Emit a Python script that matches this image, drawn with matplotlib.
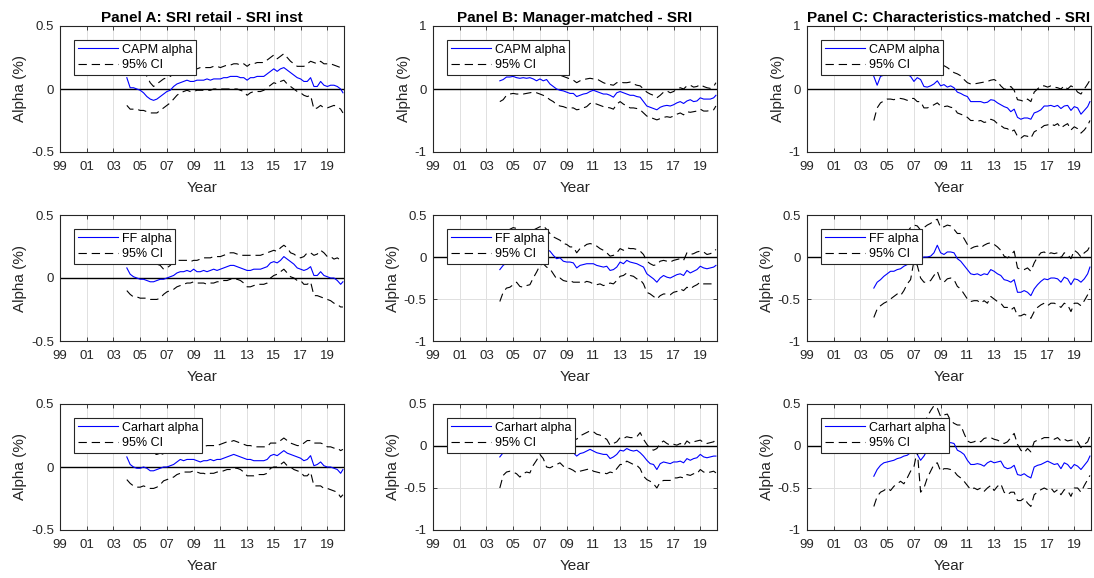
import numpy as np
import matplotlib
matplotlib.use("Agg")
import matplotlib.pyplot as plt

plt.rcParams['font.family'] = ['Liberation Sans', 'DejaVu Sans']
plt.rcParams['lines.scale_dashes'] = False

# quarterly dates 2004.00 ... 2020.00 plus final observation
dates = list(np.arange(2004.0, 2020.001, 0.25)) + [2020.17]

# ---------------- Panel A: SRI retail - SRI inst ----------------
a_capm = [0.09, 0.01, 0.01, 0.00, -0.01, -0.03, -0.06, -0.08, -0.09, -0.08, -0.06, -0.04,
          -0.02, -0.01, 0.02, 0.04, 0.05, 0.06, 0.07, 0.06, 0.06, 0.07, 0.07, 0.07,
          0.08, 0.07, 0.08, 0.08, 0.08, 0.09, 0.09, 0.10, 0.10, 0.10, 0.09, 0.09,
          0.07, 0.09, 0.09, 0.10, 0.10, 0.10, 0.12, 0.14, 0.16, 0.14, 0.16, 0.17,
          0.15, 0.13, 0.11, 0.09, 0.08, 0.06, 0.06, 0.09, 0.02, 0.02, 0.06, 0.03,
          0.02, 0.03, 0.03, 0.02, 0.00, -0.03]
a_capm_hi = [0.30, 0.20, 0.19, 0.17, 0.16, 0.14, 0.10, 0.05, 0.02, 0.04, 0.06, 0.08,
             0.09, 0.10, 0.12, 0.14, 0.15, 0.15, 0.16, 0.14, 0.14, 0.16, 0.17, 0.17,
             0.17, 0.17, 0.18, 0.18, 0.17, 0.18, 0.19, 0.19, 0.20, 0.20, 0.19, 0.20,
             0.18, 0.20, 0.20, 0.21, 0.21, 0.21, 0.23, 0.25, 0.27, 0.24, 0.26, 0.28,
             0.25, 0.22, 0.20, 0.18, 0.18, 0.18, 0.20, 0.22, 0.21, 0.20, 0.22, 0.20,
             0.20, 0.20, 0.19, 0.18, 0.17, 0.15]
a_capm_lo = [-0.13, -0.16, -0.16, -0.16, -0.17, -0.17, -0.18, -0.19, -0.19, -0.19, -0.17, -0.15,
             -0.13, -0.11, -0.08, -0.05, -0.03, -0.02, -0.01, -0.02, -0.02, -0.01, -0.01, -0.01,
             -0.01, -0.01, 0.00, 0.00, 0.00, 0.00, 0.00, 0.00, 0.00, 0.00, -0.01, -0.02,
             -0.05, -0.03, -0.02, -0.02, -0.02, -0.01, 0.01, 0.03, 0.05, 0.04, 0.06, 0.07,
             0.04, 0.02, 0.00, -0.02, -0.03, -0.05, -0.06, -0.05, -0.16, -0.15, -0.13, -0.15,
             -0.15, -0.14, -0.13, -0.14, -0.16, -0.19]

a_ff = [0.08, 0.03, 0.01, 0.00, -0.01, -0.01, -0.02, -0.03, -0.03, -0.02, -0.01, -0.01,
        0.00, 0.01, 0.02, 0.04, 0.05, 0.05, 0.06, 0.05, 0.07, 0.05, 0.05, 0.06,
        0.05, 0.06, 0.07, 0.06, 0.07, 0.08, 0.09, 0.10, 0.10, 0.09, 0.08, 0.07,
        0.06, 0.06, 0.07, 0.07, 0.07, 0.08, 0.09, 0.12, 0.13, 0.12, 0.14, 0.17,
        0.15, 0.13, 0.11, 0.08, 0.07, 0.06, 0.07, 0.09, 0.02, 0.02, 0.05, 0.02,
        0.01, 0.00, 0.00, -0.02, -0.05, -0.03]
a_ff_hi = [0.28, 0.22, 0.20, 0.17, 0.15, 0.14, 0.13, 0.12, 0.11, 0.11, 0.10, 0.07,
           0.08, 0.10, 0.13, 0.14, 0.14, 0.14, 0.14, 0.13, 0.14, 0.14, 0.15, 0.16,
           0.16, 0.16, 0.17, 0.17, 0.17, 0.18, 0.19, 0.20, 0.20, 0.19, 0.18, 0.18,
           0.18, 0.18, 0.18, 0.18, 0.18, 0.19, 0.20, 0.21, 0.22, 0.21, 0.24, 0.26,
           0.24, 0.20, 0.19, 0.17, 0.16, 0.17, 0.20, 0.20, 0.18, 0.19, 0.22, 0.20,
           0.17, 0.17, 0.15, 0.16, 0.14, 0.14]
a_ff_lo = [-0.10, -0.13, -0.15, -0.15, -0.16, -0.16, -0.16, -0.17, -0.17, -0.17, -0.16, -0.13,
           -0.11, -0.10, -0.09, -0.07, -0.06, -0.05, -0.04, -0.04, -0.03, -0.04, -0.04, -0.04,
           -0.05, -0.04, -0.04, -0.03, -0.03, -0.02, -0.02, -0.01, -0.01, -0.01, -0.02, -0.04,
           -0.07, -0.07, -0.06, -0.05, -0.05, -0.05, -0.04, 0.00, 0.02, 0.03, 0.05, 0.07,
           0.04, 0.01, 0.00, -0.02, -0.02, -0.05, -0.05, -0.03, -0.14, -0.14, -0.15, -0.16,
           -0.17, -0.18, -0.20, -0.21, -0.23, -0.23]

a_car = [0.08, 0.02, 0.00, -0.01, -0.01, 0.00, -0.01, -0.03, -0.03, -0.02, -0.01, 0.00,
         0.00, 0.01, 0.02, 0.04, 0.06, 0.05, 0.06, 0.06, 0.06, 0.05, 0.04, 0.05,
         0.05, 0.06, 0.05, 0.06, 0.06, 0.07, 0.08, 0.09, 0.10, 0.09, 0.08, 0.07,
         0.06, 0.06, 0.05, 0.05, 0.05, 0.05, 0.06, 0.09, 0.10, 0.09, 0.11, 0.13,
         0.11, 0.10, 0.09, 0.08, 0.07, 0.05, 0.06, 0.09, 0.01, 0.02, 0.04, 0.01,
         0.00, 0.00, -0.01, -0.02, -0.05, -0.02]
a_car_hi = [0.27, 0.20, 0.17, 0.15, 0.14, 0.15, 0.13, 0.11, 0.10, 0.10, 0.11, 0.10,
            0.10, 0.12, 0.13, 0.14, 0.15, 0.15, 0.15, 0.15, 0.15, 0.15, 0.16, 0.16,
            0.17, 0.17, 0.17, 0.17, 0.18, 0.19, 0.20, 0.20, 0.21, 0.20, 0.19, 0.18,
            0.17, 0.17, 0.16, 0.16, 0.16, 0.16, 0.16, 0.19, 0.19, 0.19, 0.21, 0.23,
            0.21, 0.19, 0.18, 0.17, 0.17, 0.19, 0.21, 0.21, 0.19, 0.19, 0.19, 0.18,
            0.16, 0.16, 0.15, 0.15, 0.13, 0.14]
a_car_lo = [-0.10, -0.13, -0.15, -0.16, -0.16, -0.15, -0.16, -0.17, -0.17, -0.16, -0.14, -0.11,
            -0.10, -0.09, -0.08, -0.06, -0.05, -0.04, -0.04, -0.04, -0.03, -0.04, -0.05, -0.05,
            -0.06, -0.05, -0.05, -0.04, -0.04, -0.03, -0.02, -0.02, -0.01, -0.01, -0.02, -0.04,
            -0.07, -0.07, -0.07, -0.06, -0.06, -0.06, -0.05, -0.01, 0.00, 0.00, 0.02, 0.04,
            0.01, 0.00, -0.02, -0.03, -0.04, -0.07, -0.07, -0.04, -0.15, -0.15, -0.15, -0.17,
            -0.17, -0.18, -0.19, -0.20, -0.24, -0.22]

# ---------------- Panel B: Manager-matched - SRI ----------------
b_capm = [0.13, 0.15, 0.19, 0.19, 0.20, 0.18, 0.17, 0.18, 0.17, 0.18, 0.16, 0.13,
          0.16, 0.13, 0.15, 0.08, 0.04, 0.00, -0.02, -0.03, -0.05, -0.07, -0.07, -0.12,
          -0.10, -0.08, -0.07, -0.04, -0.02, -0.04, -0.06, -0.08, -0.08, -0.10, -0.13, -0.06,
          -0.04, -0.06, -0.08, -0.10, -0.10, -0.12, -0.13, -0.20, -0.27, -0.29, -0.31, -0.33,
          -0.29, -0.27, -0.26, -0.27, -0.25, -0.22, -0.20, -0.23, -0.19, -0.17, -0.20, -0.19,
          -0.14, -0.16, -0.16, -0.16, -0.14, -0.10]
b_capm_hi = [0.45, 0.45, 0.45, 0.45, 0.45, 0.44, 0.42, 0.42, 0.42, 0.41, 0.40, 0.38,
             0.40, 0.38, 0.38, 0.34, 0.30, 0.25, 0.22, 0.20, 0.18, 0.16, 0.14, 0.10,
             0.13, 0.15, 0.16, 0.17, 0.16, 0.16, 0.13, 0.10, 0.08, 0.07, 0.06, 0.10,
             0.11, 0.10, 0.10, 0.11, 0.08, 0.06, 0.05, 0.00, -0.05, -0.08, -0.10, -0.14,
             -0.10, -0.05, -0.03, -0.06, -0.04, 0.00, 0.02, 0.00, 0.05, 0.06, 0.03, 0.04,
             0.07, 0.04, 0.02, 0.01, 0.04, 0.10]
b_capm_lo = [-0.20, -0.17, -0.10, -0.08, -0.07, -0.08, -0.08, -0.08, -0.07, -0.06, -0.05, -0.06,
             -0.08, -0.10, -0.13, -0.17, -0.20, -0.25, -0.27, -0.28, -0.30, -0.30, -0.30, -0.33,
             -0.32, -0.30, -0.28, -0.23, -0.22, -0.24, -0.26, -0.28, -0.29, -0.30, -0.32, -0.24,
             -0.20, -0.24, -0.27, -0.30, -0.30, -0.31, -0.33, -0.38, -0.43, -0.45, -0.47, -0.49,
             -0.47, -0.45, -0.44, -0.45, -0.43, -0.40, -0.38, -0.41, -0.36, -0.37, -0.36, -0.35,
             -0.32, -0.35, -0.35, -0.34, -0.33, -0.27]

b_ff = [-0.15, -0.10, -0.07, -0.05, -0.03, -0.02, -0.02, -0.03, -0.02, 0.00, 0.02, 0.05,
        0.08, 0.10, 0.09, 0.07, 0.02, -0.02, -0.01, -0.05, -0.06, -0.06, -0.07, -0.13,
        -0.10, -0.09, -0.08, -0.08, -0.08, -0.10, -0.11, -0.12, -0.11, -0.16, -0.15, -0.12,
        -0.06, -0.08, -0.04, -0.06, -0.07, -0.08, -0.10, -0.12, -0.20, -0.23, -0.26, -0.30,
        -0.25, -0.22, -0.24, -0.25, -0.23, -0.21, -0.20, -0.22, -0.16, -0.19, -0.17, -0.15,
        -0.11, -0.13, -0.14, -0.13, -0.12, -0.10]
b_ff_hi = [0.20, 0.26, 0.30, 0.33, 0.35, 0.34, 0.33, 0.31, 0.30, 0.31, 0.32, 0.34,
           0.36, 0.37, 0.33, 0.28, 0.24, 0.22, 0.20, 0.16, 0.15, 0.12, 0.12, 0.05,
           0.10, 0.12, 0.15, 0.16, 0.15, 0.13, 0.10, 0.08, 0.05, 0.01, 0.02, 0.05,
           0.10, 0.08, 0.11, 0.10, 0.10, 0.09, 0.07, 0.03, -0.05, -0.08, -0.10, -0.09,
           -0.05, -0.04, -0.05, -0.06, -0.04, -0.03, -0.02, -0.04, 0.05, 0.03, 0.04, 0.06,
           0.07, 0.06, 0.03, 0.04, 0.06, 0.09]
b_ff_lo = [-0.53, -0.42, -0.37, -0.36, -0.33, -0.30, -0.35, -0.36, -0.34, -0.33, -0.25, -0.18,
           -0.10, -0.08, -0.12, -0.14, -0.20, -0.26, -0.25, -0.28, -0.29, -0.28, -0.30, -0.30,
           -0.30, -0.31, -0.29, -0.30, -0.32, -0.33, -0.32, -0.34, -0.33, -0.31, -0.32, -0.28,
           -0.23, -0.22, -0.19, -0.22, -0.23, -0.26, -0.27, -0.32, -0.42, -0.44, -0.47, -0.50,
           -0.46, -0.44, -0.44, -0.45, -0.42, -0.41, -0.38, -0.40, -0.36, -0.38, -0.35, -0.33,
           -0.30, -0.32, -0.32, -0.32, -0.32, -0.32]

b_car = [-0.13, -0.08, -0.05, -0.04, -0.03, -0.03, -0.03, -0.02, 0.00, 0.02, 0.05, 0.07,
         0.08, 0.07, 0.05, 0.02, 0.00, -0.02, -0.03, -0.05, -0.06, -0.07, -0.08, -0.12,
         -0.09, -0.08, -0.06, -0.04, -0.06, -0.08, -0.09, -0.10, -0.10, -0.15, -0.13, -0.10,
         -0.05, -0.06, -0.03, -0.05, -0.06, -0.05, -0.08, -0.12, -0.17, -0.21, -0.22, -0.28,
         -0.21, -0.19, -0.20, -0.21, -0.19, -0.19, -0.18, -0.20, -0.15, -0.17, -0.15, -0.14,
         -0.10, -0.13, -0.14, -0.13, -0.12, -0.12]
b_car_hi = [0.25, 0.28, 0.30, 0.32, 0.33, 0.32, 0.30, 0.29, 0.28, 0.29, 0.30, 0.32,
            0.33, 0.32, 0.30, 0.28, 0.25, 0.22, 0.20, 0.17, 0.15, 0.12, 0.10, 0.08,
            0.12, 0.14, 0.16, 0.18, 0.17, 0.14, 0.13, 0.10, 0.08, 0.01, 0.03, 0.05,
            0.10, 0.09, 0.11, 0.10, 0.10, 0.11, 0.16, 0.08, 0.02, -0.03, -0.05, -0.03,
            0.03, 0.06, 0.03, 0.01, 0.02, 0.01, 0.03, 0.00, 0.06, 0.03, 0.05, 0.06,
            0.07, 0.04, 0.03, 0.04, 0.05, 0.08]
b_car_lo = [-0.50, -0.35, -0.31, -0.30, -0.31, -0.33, -0.37, -0.33, -0.31, -0.32, -0.23, -0.17,
            -0.10, -0.15, -0.25, -0.26, -0.24, -0.22, -0.20, -0.24, -0.26, -0.27, -0.29, -0.32,
            -0.30, -0.29, -0.28, -0.27, -0.30, -0.31, -0.32, -0.32, -0.33, -0.31, -0.32, -0.27,
            -0.22, -0.22, -0.18, -0.20, -0.22, -0.23, -0.27, -0.36, -0.40, -0.42, -0.45, -0.50,
            -0.43, -0.41, -0.41, -0.41, -0.38, -0.38, -0.37, -0.38, -0.34, -0.35, -0.33, -0.33,
            -0.28, -0.31, -0.32, -0.31, -0.30, -0.32]

# ---------------- Panel C: Characteristics-matched - SRI ----------------
c_capm = [0.20, 0.06, 0.20, 0.22, 0.23, 0.22, 0.24, 0.25, 0.25, 0.24, 0.23, 0.20,
          0.12, 0.18, 0.15, 0.04, 0.03, 0.05, 0.08, 0.13, 0.05, 0.07, 0.03, 0.05,
          0.02, -0.05, -0.07, -0.10, -0.12, -0.20, -0.20, -0.20, -0.20, -0.22, -0.21, -0.17,
          -0.18, -0.22, -0.25, -0.28, -0.30, -0.36, -0.32, -0.45, -0.48, -0.46, -0.46, -0.48,
          -0.38, -0.36, -0.33, -0.27, -0.27, -0.26, -0.28, -0.26, -0.31, -0.27, -0.26, -0.34,
          -0.28, -0.30, -0.40, -0.34, -0.28, -0.20]
c_capm_hi = [0.55, 0.40, 0.50, 0.55, 0.58, 0.56, 0.58, 0.60, 0.60, 0.60, 0.58, 0.55,
             0.48, 0.52, 0.50, 0.40, 0.38, 0.40, 0.42, 0.45, 0.38, 0.37, 0.34, 0.30,
             0.26, 0.24, 0.21, 0.15, 0.10, 0.08, 0.08, 0.09, 0.10, 0.11, 0.12, 0.14,
             0.15, 0.12, 0.05, 0.00, 0.00, 0.04, -0.02, -0.17, -0.18, -0.20, -0.16, -0.20,
             -0.05, 0.00, 0.05, 0.05, 0.03, 0.05, 0.03, 0.02, 0.00, 0.05, 0.00, 0.05,
             0.02, -0.05, -0.08, 0.00, 0.08, 0.14]
c_capm_lo = [-0.50, -0.30, -0.22, -0.19, -0.16, -0.16, -0.17, -0.15, -0.15, -0.16, -0.18, -0.15,
             -0.15, -0.20, -0.20, -0.30, -0.30, -0.28, -0.25, -0.22, -0.27, -0.28, -0.27, -0.29,
             -0.30, -0.38, -0.40, -0.42, -0.45, -0.50, -0.50, -0.51, -0.50, -0.53, -0.52, -0.48,
             -0.50, -0.55, -0.58, -0.62, -0.63, -0.68, -0.65, -0.75, -0.78, -0.74, -0.75, -0.78,
             -0.68, -0.65, -0.62, -0.58, -0.57, -0.55, -0.58, -0.55, -0.62, -0.58, -0.55, -0.65,
             -0.60, -0.63, -0.70, -0.65, -0.58, -0.50]

c_ff = [-0.37, -0.30, -0.27, -0.23, -0.20, -0.17, -0.17, -0.15, -0.14, -0.11, -0.09, -0.06,
        -0.04, -0.03, -0.02, 0.00, 0.00, 0.01, 0.05, 0.14, 0.05, 0.03, 0.06, 0.06,
        0.05, -0.02, -0.05, -0.10, -0.15, -0.20, -0.21, -0.20, -0.22, -0.20, -0.21, -0.15,
        -0.17, -0.20, -0.22, -0.27, -0.28, -0.30, -0.27, -0.42, -0.42, -0.40, -0.42, -0.46,
        -0.38, -0.33, -0.29, -0.26, -0.27, -0.25, -0.25, -0.26, -0.30, -0.24, -0.26, -0.33,
        -0.26, -0.27, -0.30, -0.26, -0.20, -0.12]
c_ff_hi = [0.00, 0.03, 0.05, 0.08, 0.10, 0.12, 0.15, 0.17, 0.20, 0.25, 0.30, 0.35,
           0.38, 0.37, 0.32, 0.35, 0.38, 0.40, 0.43, 0.45, 0.35, 0.36, 0.38, 0.37,
           0.33, 0.28, 0.28, 0.22, 0.15, 0.10, 0.12, 0.13, 0.11, 0.14, 0.16, 0.17,
           0.15, 0.12, 0.08, 0.01, -0.01, 0.02, 0.07, -0.13, -0.15, -0.15, -0.13, -0.17,
           -0.07, 0.00, 0.05, 0.06, 0.03, 0.05, 0.04, 0.05, -0.01, 0.05, 0.03, -0.02,
           0.08, 0.05, 0.00, 0.05, 0.08, 0.13]
c_ff_lo = [-0.72, -0.62, -0.58, -0.55, -0.53, -0.50, -0.47, -0.44, -0.46, -0.40, -0.32, -0.27,
           -0.05, -0.10, -0.25, -0.30, -0.30, -0.28, -0.22, -0.17, -0.28, -0.30, -0.26, -0.25,
           -0.27, -0.35, -0.38, -0.44, -0.50, -0.53, -0.52, -0.52, -0.55, -0.52, -0.55, -0.47,
           -0.50, -0.53, -0.55, -0.60, -0.60, -0.63, -0.60, -0.70, -0.70, -0.68, -0.70, -0.73,
           -0.65, -0.60, -0.57, -0.55, -0.58, -0.55, -0.55, -0.57, -0.60, -0.55, -0.57, -0.65,
           -0.55, -0.55, -0.58, -0.52, -0.45, -0.38]

c_car = [-0.36, -0.28, -0.23, -0.20, -0.19, -0.18, -0.17, -0.15, -0.14, -0.12, -0.11, -0.08,
         -0.05, -0.10, -0.17, -0.12, -0.05, 0.00, 0.05, 0.10, 0.02, 0.05, 0.03, 0.04,
         0.03, -0.05, -0.07, -0.10, -0.17, -0.22, -0.22, -0.21, -0.22, -0.24, -0.20, -0.18,
         -0.20, -0.19, -0.18, -0.25, -0.27, -0.26, -0.23, -0.34, -0.35, -0.33, -0.36, -0.38,
         -0.25, -0.23, -0.22, -0.20, -0.18, -0.20, -0.22, -0.21, -0.27, -0.20, -0.22, -0.27,
         -0.22, -0.24, -0.28, -0.23, -0.18, -0.12]
c_car_hi = [0.00, 0.03, 0.05, 0.08, 0.10, 0.11, 0.12, 0.14, 0.15, 0.17, 0.20, 0.25,
            0.30, 0.30, 0.20, 0.25, 0.35, 0.42, 0.48, 0.45, 0.35, 0.37, 0.38, 0.30,
            0.27, 0.25, 0.25, 0.15, 0.06, 0.04, 0.05, 0.07, 0.05, 0.09, 0.10, 0.10,
            0.08, 0.07, 0.05, 0.03, 0.05, 0.10, 0.15, 0.02, -0.05, -0.08, -0.03, -0.07,
            0.05, 0.07, 0.08, 0.10, 0.10, 0.10, 0.08, 0.10, 0.06, 0.08, 0.06, 0.07,
            0.07, 0.05, -0.02, 0.02, 0.05, 0.12]
c_car_lo = [-0.72, -0.60, -0.55, -0.53, -0.50, -0.53, -0.48, -0.45, -0.42, -0.45, -0.38, -0.30,
            -0.25, -0.05, -0.55, -0.50, -0.38, -0.30, -0.22, -0.20, -0.30, -0.27, -0.27, -0.28,
            -0.30, -0.35, -0.38, -0.42, -0.47, -0.52, -0.50, -0.52, -0.50, -0.54, -0.50, -0.47,
            -0.53, -0.48, -0.45, -0.55, -0.58, -0.55, -0.55, -0.65, -0.65, -0.62, -0.68, -0.72,
            -0.58, -0.55, -0.52, -0.50, -0.52, -0.50, -0.55, -0.52, -0.58, -0.52, -0.53, -0.60,
            -0.50, -0.50, -0.55, -0.47, -0.40, -0.35]

titles = ["Panel A: SRI retail - SRI inst", "Panel B: Manager-matched - SRI",
          "Panel C: Characteristics-matched - SRI"]
model_labels = ["CAPM alpha", "FF alpha", "Carhart alpha"]
ci_label = "95% CI"
xtick_years = list(range(1999, 2020, 2))
xtick_labels = ["99", "01", "03", "05", "07", "09", "11", "13", "15", "17", "19"]

series = [
    [(a_capm, a_capm_hi, a_capm_lo), (b_capm, b_capm_hi, b_capm_lo), (c_capm, c_capm_hi, c_capm_lo)],
    [(a_ff, a_ff_hi, a_ff_lo), (b_ff, b_ff_hi, b_ff_lo), (c_ff, c_ff_hi, c_ff_lo)],
    [(a_car, a_car_hi, a_car_lo), (b_car, b_car_hi, b_car_lo), (c_car, c_car_hi, c_car_lo)],
]

W, H = 1094, 578
fig = plt.figure(figsize=(W / 100, H / 100), dpi=100)
lefts = [60, 433, 807]
tops = [26, 215, 404]
aw, ah = 284, 126
axcol = '#262626'

for r in range(3):
    for c in range(3):
        ax = fig.add_axes([lefts[c] / W, 1 - (tops[r] + ah) / H, aw / W, ah / H])
        alpha, hi, lo = series[r][c]
        ax.grid(True, color='#e0e0e0', linewidth=0.7)
        ax.set_axisbelow(True)
        ax.axhline(0, color='black', linewidth=1.0, zorder=2)
        l1, = ax.plot(dates, alpha, color='#0000ff', linewidth=0.8, zorder=3)
        l2, = ax.plot(dates, hi, color='black', linewidth=0.8, dashes=(6, 3.5), zorder=3)
        ax.plot(dates, lo, color='black', linewidth=0.8, dashes=(6, 3.5), zorder=3)
        ax.set_xlim(1999, 2020.25)
        ax.set_xticks(xtick_years)
        ax.set_xticklabels(xtick_labels)
        if c == 0:
            ax.set_ylim(-0.5, 0.5)
            ax.set_yticks([-0.5, 0, 0.5])
            ax.set_yticklabels(["-0.5", "0", "0.5"])
        elif r == 0:
            ax.set_ylim(-1, 1)
            ax.set_yticks([-1, 0, 1])
            ax.set_yticklabels(["-1", "0", "1"])
        else:
            ax.set_ylim(-1, 0.5)
            ax.set_yticks([-1, -0.5, 0, 0.5])
            ax.set_yticklabels(["-1", "-0.5", "0", "0.5"])
        ax.tick_params(direction='in', length=3, width=0.6, colors=axcol,
                       labelsize=9.5, top=True, right=True)
        ax.tick_params(axis='x', pad=6.3)
        ax.tick_params(axis='y', pad=4.5)
        for s in ax.spines.values():
            s.set_color(axcol)
            s.set_linewidth(0.8)
        ax.set_xlabel("Year", fontsize=11, color=axcol, labelpad=6)
        ax.set_ylabel("Alpha (%)", fontsize=11, color=axcol, labelpad=3)
        if r == 0:
            ax.set_title(titles[c], fontsize=11, fontweight='bold', pad=3)
        leg = ax.legend([l1, l2], [model_labels[r], ci_label], loc='upper left',
                        bbox_to_anchor=(14 / aw, 1 - 14 / ah), borderaxespad=0,
                        fontsize=9, frameon=True, fancybox=False, framealpha=1,
                        edgecolor=axcol, handlelength=3.2, handletextpad=0.32,
                        borderpad=0.3, labelspacing=0.25)
        leg.get_frame().set_linewidth(0.8)
        leg.set_zorder(5)

fig.savefig("out.png", dpi=100)
